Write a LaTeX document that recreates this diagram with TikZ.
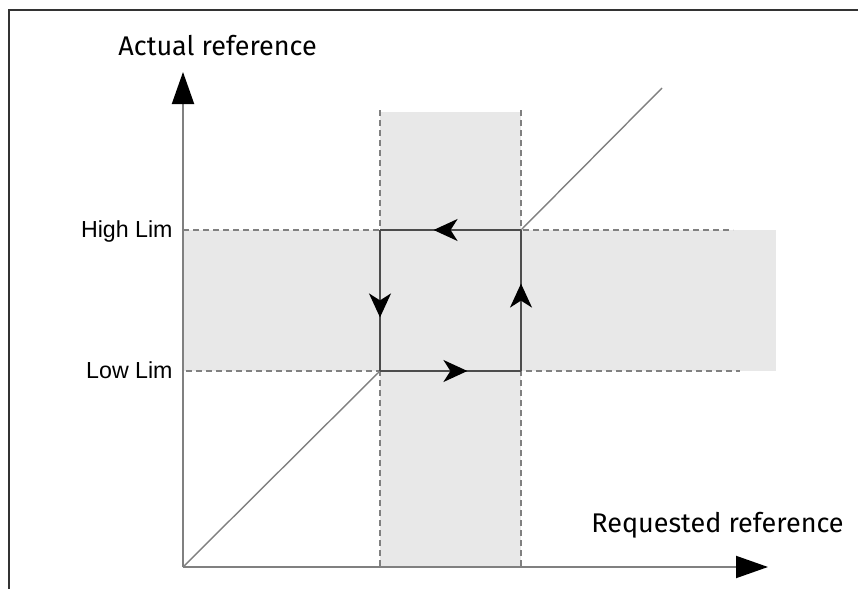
\documentclass[tikz,border=0pt]{standalone}
\usepackage{fontspec}
\setmainfont{Fira Sans}
\newfontfamily\limfont{Liberation Sans}
\usetikzlibrary{arrows.meta,decorations.markings}
\definecolor{bandgray}{HTML}{E8E8E8}
\definecolor{linegray}{HTML}{808080}
\tikzset{
 axisline/.style={draw=linegray,line width=1pt,-{Triangle[length=16pt,width=11pt,black]}},
 limline/.style={draw=linegray,line width=.7pt,dash pattern=on 3pt off 2pt},
 diag/.style={draw=linegray,line width=.7pt},
 loopline/.style={draw=black!70,line width=.8pt,postaction={decorate},
  decoration={markings,mark=at position .62 with {\arrow{Stealth[length=12pt,width=11pt,inset=3.5pt,black]}}}},
 limlabel/.style={font=\limfont\fontsize{11.6}{13}\selectfont,anchor=base east,inner sep=0pt},
 axislabel/.style={font=\fontsize{13.5}{16}\selectfont,anchor=base west,inner sep=0pt}
}
\begin{document}
\begin{tikzpicture}[x=.5pt,y=-.5pt]
 \useasboundingbox (0,0) rectangle (858,589);
 \draw[black!80,line width=1pt] (9,589) -- (9,10) -- (858,10);
 % key points
 \coordinate (O) at (183,567);
 \coordinate (ytip) at (183,72);
 \coordinate (xtip) at (768,567);
 \coordinate (lowL) at (380,371);
 \coordinate (lowR) at (521,371);
 \coordinate (highR) at (521,230);
 \coordinate (highL) at (380,230);
 \coordinate (diagEnd) at (662,88);
 % bands
 \fill[bandgray] (380,112) rectangle (521,567);
 \fill[bandgray] (183,230) rectangle (776,371);
 \foreach \x in {380,521}
  \draw[limline] (\x,110) -- (\x,567);
 \draw[limline] (183,230) -- (733,230);
 \draw[limline] (186,371) -- (740,371);
 % diagonal
 \draw[diag] (O) -- (lowL);
 \draw[diag] (highR) -- (diagEnd);
 % hysteresis loop
 \draw[loopline] (highR) -- (highL);
 \draw[loopline] (highL) -- (lowL);
 \draw[loopline] (lowL) -- (lowR);
 \draw[loopline] (lowR) -- (highR);
 % axes
 \draw[axisline] (O) -- (ytip);
 \draw[axisline] (O) -- (xtip);
 \node[limlabel] (high) at (173,237) {High Lim};
 \node[limlabel] (low) at (173,378) {Low Lim};
 \node[axislabel] (ylab) at (118,55) {Actual reference};
 \node[axislabel] (xlab) at (591,532) {Requested reference};
\end{tikzpicture}
\end{document}
